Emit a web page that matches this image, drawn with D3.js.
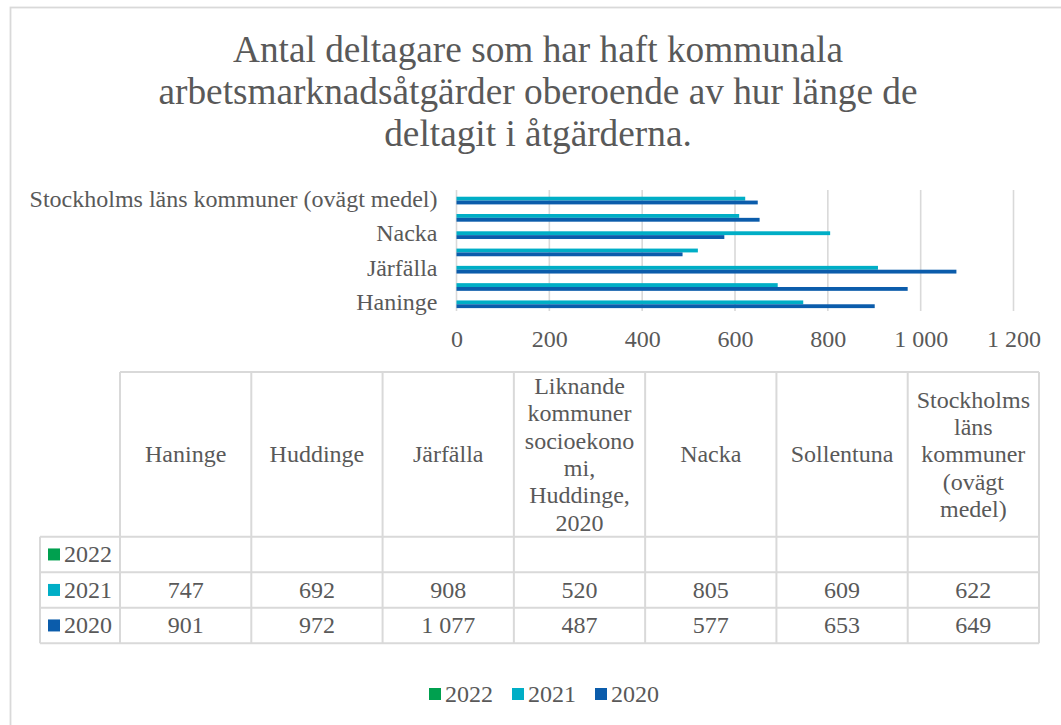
<!DOCTYPE html>
<html>
<head>
<meta charset="utf-8">
<script src="https://cdn.jsdelivr.net/npm/d3@7"></script>
<style>
  html, body { margin: 0; padding: 0; background: #fff; }
  svg text { font-family: "Liberation Serif", "Times New Roman", serif; fill: #595959; }
</style>
</head>
<body>
<svg id="chart" width="1061" height="725"></svg>
<script>
// Categories (bottom to top in the bar chart, left to right in the table)
const categories = [
  "Haninge",
  "Huddinge",
  "Järfälla",
  "Liknande kommuner socioekonomi, Huddinge, 2020",
  "Nacka",
  "Sollentuna",
  "Stockholms läns kommuner (ovägt medel)"
];
const seriesNames = ["2022", "2021", "2020"];
const values2022 = [null, null, null, null, null, null, null];
const values2021 = [747, 692, 908, 520, 805, 609, 622];
const values2020 = [901, 972, 1077, 487, 577, 653, 649];
const xTicks = [0, 200, 400, 600, 800, 1000, 1200];
const titleLines = [
  "Antal deltagare som har haft kommunala",
  "arbetsmarknadsåtgärder oberoende av hur länge de",
  "deltagit i åtgärderna."
];

const seriesColors = { "2022": "#00a04f", "2021": "#00aec6", "2020": "#0b5cab" };
const seriesValues = { "2022": values2022, "2021": values2021, "2020": values2020 };
const gridColor = "#d9d9d9";

const svg = d3.select("#chart");
const fmt = d3.formatLocale({ decimal: ",", thousands: "\u00a0", grouping: [3], currency: ["", " kr"] }).format(",d");

// Outer chart frame
svg.append("rect")
  .attr("x", 10.5).attr("y", 7.5)
  .attr("width", 1070).attr("height", 740)
  .attr("fill", "none").attr("stroke", gridColor).attr("stroke-width", 1.8);

// Title
svg.append("g").selectAll("text").data(titleLines).join("text")
  .attr("x", 538).attr("y", (d, i) => 62 + i * 42)
  .attr("text-anchor", "middle")
  .style("font-size", "37.3px")
  .text(d => d);

// Scales
const plotTop = 190, plotBottom = 311;
const x = d3.scaleLinear().domain([0, 1200]).range([456.5, 1013.5]);
const y = d3.scaleBand().domain(categories).range([plotBottom, plotTop]);
const ySub = d3.scaleBand().domain(seriesNames).range([0, y.bandwidth()]).paddingOuter(0.75);

// Vertical gridlines
svg.append("g").selectAll("line").data(xTicks).join("line")
  .attr("x1", d => x(d)).attr("x2", d => x(d))
  .attr("y1", plotTop).attr("y2", plotBottom)
  .attr("stroke", gridColor).attr("stroke-width", 1.6);

// Bars
const barData = [];
seriesNames.forEach(s => {
  categories.forEach((c, i) => {
    const v = seriesValues[s][i];
    if (v != null) barData.push({ s, c, v });
  });
});
svg.append("g").selectAll("rect").data(barData).join("rect")
  .attr("x", x(0))
  .attr("y", d => y(d.c) + ySub(d.s))
  .attr("width", d => x(d.v) - x(0))
  .attr("height", ySub.bandwidth())
  .attr("fill", d => seriesColors[d.s]);

// Category axis (every other label shown)
const yAxis = d3.axisLeft(y)
  .tickValues(categories.filter((d, i) => i % 2 === 0))
  .tickSize(0).tickPadding(19);
const gy = svg.append("g").attr("transform", `translate(${x(0)},0)`).call(yAxis);
gy.select(".domain").remove();
gy.selectAll("text").style("font-size", "24px").attr("fill", "#595959").attr("dy", "0.33em");

// Value axis labels
const xAxis = d3.axisBottom(x).tickValues(xTicks).tickFormat(fmt).tickSize(0).tickPadding(0);
const gx = svg.append("g").attr("transform", "translate(0,346.5)").call(xAxis);
gx.select(".domain").remove();
gx.selectAll("text").style("font-size", "24px").attr("fill", "#595959").attr("dy", "0");

// Data table
const colX = d3.scaleBand().domain(categories).range([120, 1039]);
const headerTop = 372, headerBottom = 536.7, rowH = 35.5;
const rowsTop = seriesNames.map((s, i) => headerBottom + i * rowH);
const tableBottom = headerBottom + seriesNames.length * rowH;
const table = svg.append("g");
const lineStyle = sel => sel.attr("stroke", gridColor).attr("stroke-width", 2).attr("fill", "none");

// horizontal rules
table.append("line").attr("x1", 120).attr("x2", 1039).attr("y1", headerTop).attr("y2", headerTop).call(lineStyle);
[headerBottom, ...rowsTop.slice(1), tableBottom].forEach(yy => {
  table.append("line").attr("x1", 40).attr("x2", 1039).attr("y1", yy).attr("y2", yy).call(lineStyle);
});
// vertical rules
table.append("line").attr("x1", 40).attr("x2", 40).attr("y1", headerBottom).attr("y2", tableBottom).call(lineStyle);
categories.forEach(c => {
  table.append("line").attr("x1", colX(c)).attr("x2", colX(c)).attr("y1", headerTop).attr("y2", tableBottom).call(lineStyle);
});
table.append("line").attr("x1", 1039).attr("x2", 1039).attr("y1", headerTop).attr("y2", tableBottom).call(lineStyle);

// wrap a header label into lines no wider than maxW (breaking long words)
const measurer = svg.append("text").style("font-size", "24px").attr("visibility", "hidden");
function textW(t) { measurer.text(t); return measurer.node().getComputedTextLength(); }
function wrap(label, maxW) {
  const words = label.split(" ");
  const lines = [];
  let cur = "";
  words.forEach(w => {
    const trial = cur ? cur + " " + w : w;
    if (textW(trial) <= maxW) { cur = trial; return; }
    if (cur) lines.push(cur);
    cur = "";
    let rest = w;
    while (textW(rest) > maxW) {
      let k = rest.length;
      while (k > 1 && textW(rest.slice(0, k)) > maxW) k--;
      lines.push(rest.slice(0, k));
      rest = rest.slice(k);
    }
    cur = rest;
  });
  if (cur) lines.push(cur);
  return lines;
}

const lineH = 27.3;
const headerMid = (headerTop + headerBottom) / 2;
categories.forEach(c => {
  const lines = wrap(c, 118);
  const t = table.append("text")
    .attr("text-anchor", "middle")
    .style("font-size", "24px");
  lines.forEach((ln, i) => {
    t.append("tspan")
      .attr("x", colX(c) + colX.bandwidth() / 2)
      .attr("y", headerMid + (i - (lines.length - 1) / 2) * lineH + 8)
      .text(ln);
  });
});
measurer.remove();

// row headers with legend keys, and values
seriesNames.forEach((s, r) => {
  const mid = rowsTop[r] + rowH / 2;
  table.append("rect").attr("x", 48).attr("y", mid - 6).attr("width", 12).attr("height", 12).attr("fill", seriesColors[s]);
  table.append("text").attr("x", 64).attr("y", mid + 8).style("font-size", "24px").text(s);
  categories.forEach((c, i) => {
    const v = seriesValues[s][i];
    if (v == null) return;
    table.append("text")
      .attr("x", colX(c) + colX.bandwidth() / 2)
      .attr("y", mid + 8)
      .attr("text-anchor", "middle")
      .style("font-size", "24px")
      .text(fmt(v));
  });
});

// Legend
const legendX = [429, 512, 595];
const legend = svg.append("g");
seriesNames.forEach((s, i) => {
  legend.append("rect").attr("x", legendX[i]).attr("y", 688).attr("width", 12).attr("height", 12).attr("fill", seriesColors[s]);
  legend.append("text").attr("x", legendX[i] + 16).attr("y", 702).style("font-size", "24px").text(s);
});
</script>
</body>
</html>
